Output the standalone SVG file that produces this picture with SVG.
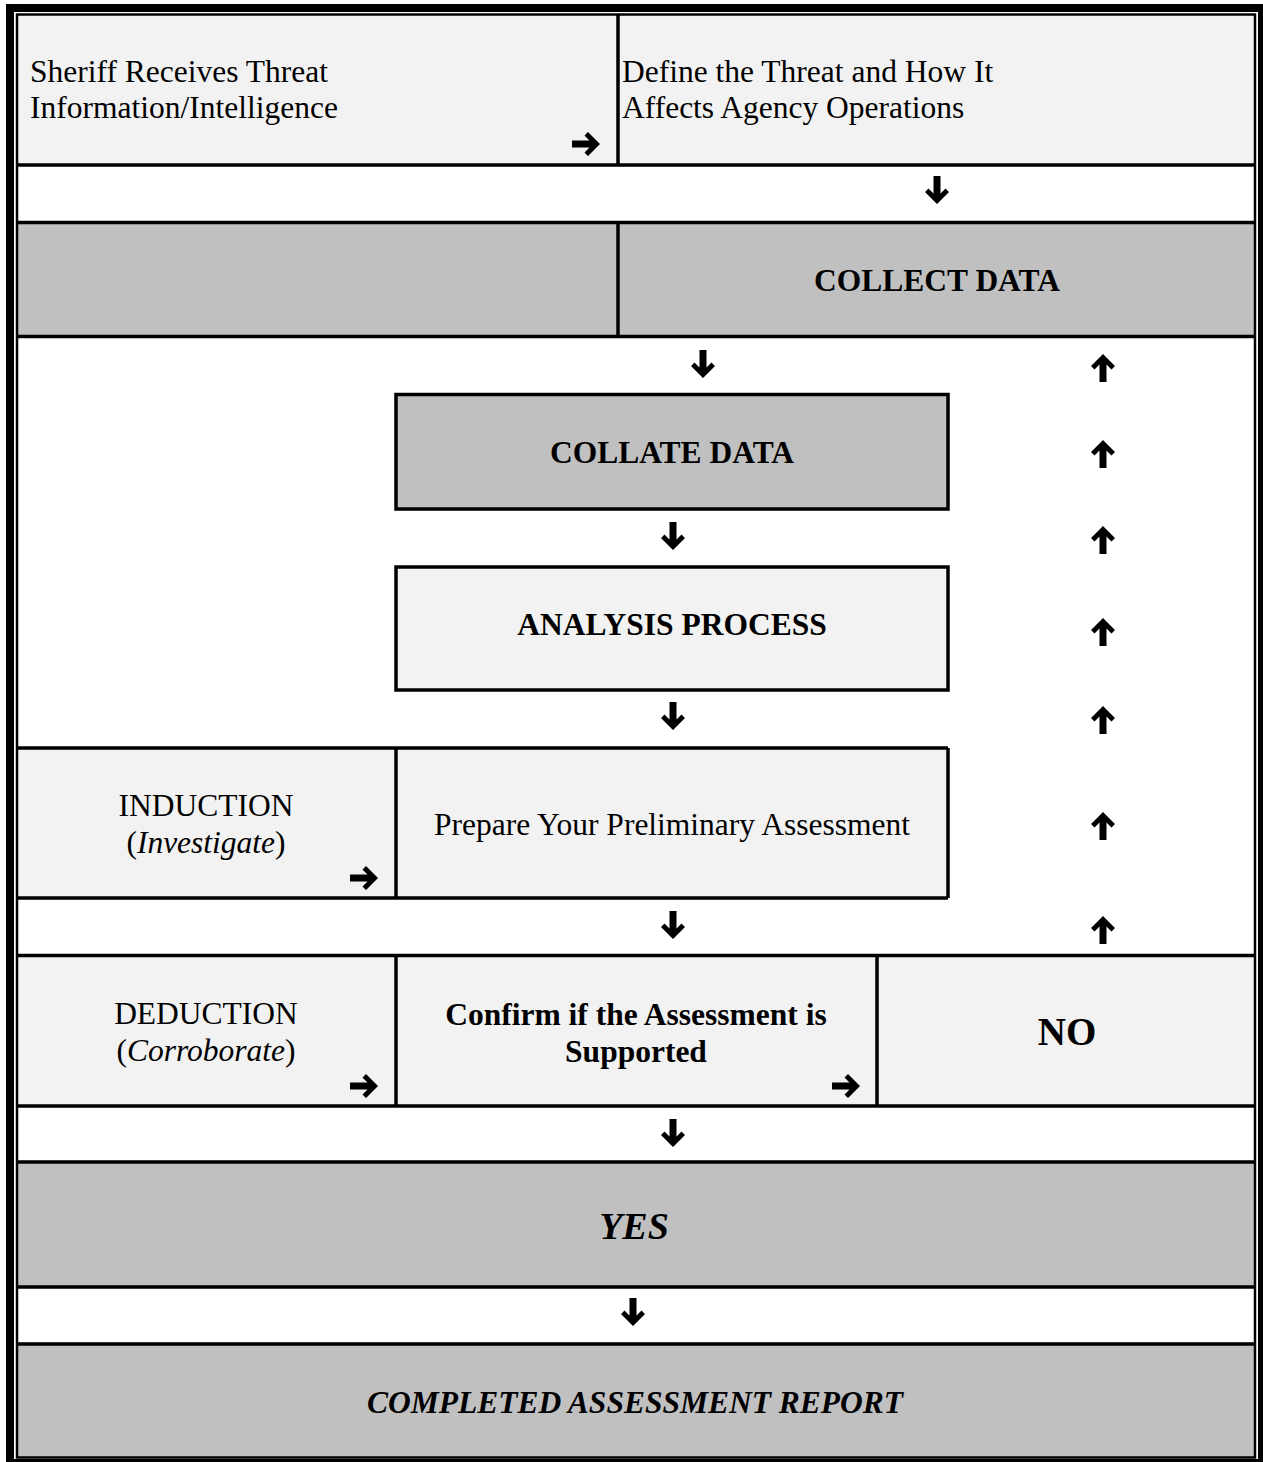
<svg xmlns="http://www.w3.org/2000/svg" width="1263" height="1462" viewBox="0 0 1263 1462">
<style>
.lt{fill:#f2f2f2}
.gr{fill:#c0c0c0}
.wh{fill:#ffffff}
.ln{stroke:#000;stroke-width:3.5;fill:none}
.bx{stroke:#000;stroke-width:3.5}
text{font-family:"Liberation Serif","Times New Roman",serif;font-size:31.5px;fill:#000}
.c{text-anchor:middle}
.b{font-weight:bold}
.i{font-style:italic}
</style>
<defs>
<path id="ad" d="M0,14 L12,2 L8.5,-1.5 L3.5,3.5 L3.5,-14 L-3.5,-14 L-3.5,3.5 L-8.5,-1.5 L-12,2 Z" fill="#000"/>
</defs>
<rect x="6" y="4" width="1257" height="1458" fill="#000"/>
<rect x="14" y="12" width="1244" height="1447" fill="#fff"/>
<g id="row-top">
<rect x="17" y="14.5" width="1238" height="150.5" class="lt"/>
</g>
<rect x="17" y="165" width="1238" height="57.5" class="wh"/>
<g id="row-collect">
<rect x="17" y="222.5" width="1238" height="114" class="gr"/>
</g>
<g id="node-sheriff">
<text x="30" y="82">Sheriff Receives Threat</text>
<text x="30" y="118">Information/Intelligence</text>
</g>
<g id="node-define">
<text x="622" y="82">Define the Threat and How It</text>
<text x="622" y="118">Affects Agency Operations</text>
</g>
<g id="node-collect">
<text x="937" y="291" class="c b">COLLECT DATA</text>
</g>
<g id="node-collate">
<rect x="396" y="394.5" width="552" height="114.5" class="gr bx"/>
<text x="672" y="463" class="c b">COLLATE DATA</text>
</g>
<g id="node-analysis">
<rect x="396" y="567" width="552" height="123" class="lt bx"/>
<text x="672" y="635" class="c b">ANALYSIS PROCESS</text>
</g>
<g id="node-induction">
<rect x="17" y="748" width="379" height="150" class="lt"/>
<text x="206" y="816" class="c">INDUCTION</text>
<text x="206" y="853" class="c">(<tspan class="i">Investigate</tspan>)</text>
</g>
<g id="node-prepare">
<rect x="396" y="748" width="552" height="150" class="lt"/>
<text x="672" y="835" class="c">Prepare Your Preliminary Assessment</text>
</g>
<g id="node-deduction">
<rect x="17" y="955.5" width="379" height="150.5" class="lt"/>
<text x="206" y="1024" class="c">DEDUCTION</text>
<text x="206" y="1061" class="c">(<tspan class="i">Corroborate</tspan>)</text>
</g>
<g id="node-confirm">
<rect x="396" y="955.5" width="481" height="150.5" class="lt"/>
<text x="636" y="1025" class="c b">Confirm if the Assessment is</text>
<text x="636" y="1062" class="c b">Supported</text>
</g>
<g id="node-no">
<rect x="877" y="955.5" width="378" height="150.5" class="lt"/>
<text x="1067" y="1045" class="c b" style="font-size:39px">NO</text>
</g>
<g id="node-yes">
<rect x="17" y="1162" width="1238" height="125" class="gr"/>
<text x="634" y="1239" class="c b i" style="font-size:38px">YES</text>
</g>
<g id="node-report">
<rect x="17" y="1344" width="1238" height="114" class="gr"/>
<text x="635" y="1413" class="c b i">COMPLETED ASSESSMENT REPORT</text>
</g>
<g id="grid-lines">
<rect x="17" y="14.5" width="1238" height="1443" fill="none" stroke="#000" stroke-width="2.5"/>
<path class="ln" d="M17,165H1255 M17,222.5H1255 M17,336.5H1255 M17,748H948 M17,898H948 M17,955.5H1255 M17,1106H1255 M17,1162H1255 M17,1287H1255 M17,1344H1255"/>
<path class="ln" d="M618,14.5V165 M618,222.5V336.5 M396,748V898 M948,748V898 M396,955.5V1106 M877,955.5V1106"/>
</g>
<g id="connectors">
<use href="#ad" transform="translate(586,144) rotate(-90)"/>
<use href="#ad" transform="translate(364,878) rotate(-90)"/>
<use href="#ad" transform="translate(364,1086) rotate(-90)"/>
<use href="#ad" transform="translate(846,1086) rotate(-90)"/>
<use href="#ad" transform="translate(937,190)"/>
<use href="#ad" transform="translate(703,364)"/>
<use href="#ad" transform="translate(673,536)"/>
<use href="#ad" transform="translate(673,716)"/>
<use href="#ad" transform="translate(673,925)"/>
<use href="#ad" transform="translate(673,1133)"/>
<use href="#ad" transform="translate(633,1312)"/>
<use href="#ad" transform="translate(1103,368) rotate(180)"/>
<use href="#ad" transform="translate(1103,454) rotate(180)"/>
<use href="#ad" transform="translate(1103,540) rotate(180)"/>
<use href="#ad" transform="translate(1103,632) rotate(180)"/>
<use href="#ad" transform="translate(1103,720) rotate(180)"/>
<use href="#ad" transform="translate(1103,826) rotate(180)"/>
<use href="#ad" transform="translate(1103,930) rotate(180)"/>
</g>
</svg>
